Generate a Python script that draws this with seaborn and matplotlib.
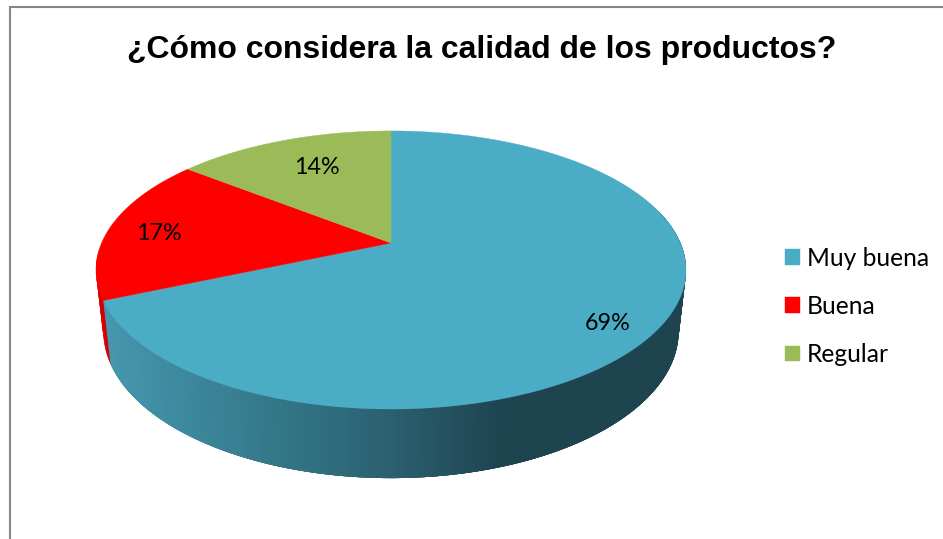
import numpy as np
import matplotlib
matplotlib.use("Agg")
import matplotlib.pyplot as plt
import seaborn as sns
from matplotlib.colors import LinearSegmentedColormap
from matplotlib.patches import Polygon

categories = ["Muy buena", "Buena", "Regular"]
shares = [68.5, 17.1, 14.4]
share_labels = ["69%", "17%", "14%"]
colors = ["#4BACC6", "#FF0000", "#9BBB59"]
label_pos = [(608, 324), (159, 234), (317, 168)]
title = "¿Cómo considera la calidad de los productos?"

sns.set_theme(style="white")
plt.rcParams["font.family"] = ["Lato", "DejaVu Sans"]

# pie centre and perspective of the tilted disc, in pixels
cx, cy = 391, 243
a, b, k = 289.4, 133.8, 0.194
depth = 60

def top_rim(deg):
    t = np.radians(deg)
    w = 1 + k * np.sin(t)
    return cx + a * np.cos(t) / w, cy - b * np.sin(t) / w

def low_rim(deg):
    t = np.radians(deg)
    w = 1 + k * np.sin(t)
    return cx + 0.975 * a * np.cos(t) / w, cy + depth - 1.055 * b * np.sin(t) / w

fig = plt.figure(figsize=(9.43, 5.39), dpi=100)
ax = fig.add_axes([0, 0, 1, 1])
wedges, _ = ax.pie(shares, colors=colors, startangle=90, counterclock=False)
ax.set_aspect("auto")
ax.set_xlim(0, 943)
ax.set_ylim(539, 0)
ax.axis("off")

side_blue = LinearSegmentedColormap.from_list(
    "side", [(0, "#4698B0"), (0.328, "#317484"), (0.49, "#2B6070"), (0.68, "#1E4450"), (1, "#1E4450")])

# pie angles come back negative here, the blue/red edge is where the front wall starts
start = wedges[0].theta1 % 360

# side wall, back to front: the red sliver first, then blue
for d in np.arange(183, start, 1.0):
    tx, ty = top_rim(np.array([d, d + 2]))
    lx, ly = low_rim(np.array([d, d + 2]))
    ax.fill(np.r_[tx, lx[::-1]], np.r_[ty, ly[::-1]], color="#D40000", lw=0)

for d in np.arange(start, 372, 0.5):
    # each strip overlaps the next so no seams show
    tx, ty = top_rim(np.array([d, d + 2.5]))
    lx, ly = low_rim(np.array([d, d + 2.5]))
    c = side_blue((lx[0] - 105) / (685 - 105))
    ax.fill(np.r_[tx, lx[::-1]], np.r_[ty, ly[::-1]], color=c, lw=0)

# top face, wedges from the pie pushed through the perspective
handles = []
for wedge, col in zip(wedges, colors):
    wedge.set_visible(False)
    ang = np.linspace(wedge.theta1, wedge.theta2, 200)
    x, y = top_rim(ang)
    p = Polygon(np.c_[np.r_[cx, x], np.r_[cy, y]], closed=True, fc=col, ec=col, lw=0.3)
    ax.add_patch(p)
    handles.append(p)

for s, (px, py) in zip(share_labels, label_pos):
    ax.text(px, py, s, ha="center", va="center", fontsize=16.8, color="black")

ax.text(482, 50, title, ha="center", va="center", fontsize=23, fontweight="bold",
        family="Liberation Sans", color="black")

ax.legend(handles, categories, loc="center left", bbox_to_anchor=(763, 306.5),
          bbox_transform=ax.transData, frameon=False, fontsize=17.7,
          handlelength=0.61, handleheight=0.61, handletextpad=0.28, labelspacing=1.02,
          labelcolor="black")

# chart frame, only left and top are in the crop
ax.plot([10, 10, 943], [539, 7, 7], color="#868686", lw=1.5, solid_joinstyle="miter")

fig.savefig("out.png", dpi=100)
